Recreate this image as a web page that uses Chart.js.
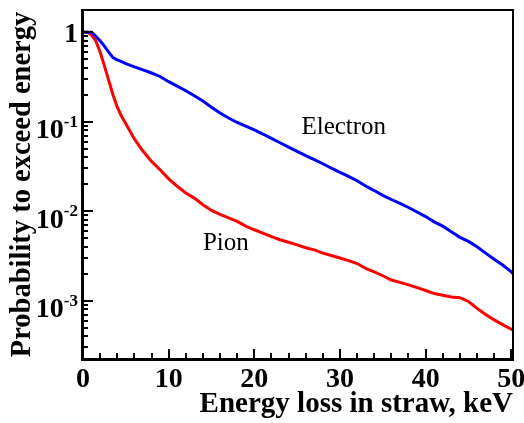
<!DOCTYPE html>
<html>
<head>
<meta charset="utf-8">
<script src="https://cdn.jsdelivr.net/npm/chart.js@4/dist/chart.umd.min.js"></script>
<style>
  html, body { margin: 0; padding: 0; background: #fff; }
</style>
</head>
<body>
<canvas id="lossgraph" width="524" height="423"></canvas>
<script>
// energy loss in straw, keV
const energy = [0, 0.5, 1, 1.5, 2, 2.5, 3, 3.5, 4, 4.5, 5, 6, 7, 8, 9, 10,
  11, 12, 13, 14, 15, 16, 17, 18, 19, 20, 21, 22, 23, 24, 25, 26, 27, 28, 29, 30,
  31, 32, 33, 34, 35, 36, 37, 38, 39, 40, 41, 42, 43, 44, 45, 46, 47, 48, 49, 50, 50.2];

// probability to exceed energy
const electron = [1, 1, 1, 0.9, 0.8, 0.7, 0.6, 0.52, 0.49, 0.47, 0.445, 0.41, 0.38, 0.35, 0.32, 0.28,
  0.25, 0.222, 0.195, 0.17, 0.145, 0.125, 0.11, 0.098, 0.089, 0.081, 0.0728, 0.065, 0.0582, 0.052, 0.0465,
  0.0417, 0.0376, 0.0339, 0.0302, 0.0272, 0.0245, 0.0219, 0.0191, 0.017, 0.015, 0.0135, 0.0122, 0.011,
  0.0098, 0.0087, 0.0076, 0.0068, 0.0059, 0.0051, 0.0046, 0.004, 0.0034, 0.0029, 0.0025, 0.0021, 0.002];

const pion = [1, 1, 0.93, 0.8, 0.6, 0.42, 0.29, 0.2, 0.145, 0.115, 0.095, 0.064, 0.047, 0.036, 0.029, 0.023,
  0.019, 0.016, 0.014, 0.0118, 0.0102, 0.0092, 0.0084, 0.0077, 0.0068, 0.0062, 0.0057, 0.0052, 0.0048, 0.0045,
  0.0042, 0.0039, 0.0037, 0.0034, 0.0032, 0.003, 0.0028, 0.0026, 0.0023, 0.0021, 0.0019, 0.0017, 0.0016,
  0.0015, 0.0014, 0.0013, 0.0012, 0.00115, 0.0011, 0.00108, 0.00098, 0.00082, 0.0007, 0.00061, 0.00054,
  0.00048, 0.00047];

const xRange = [0, 50.2];
const yRange = [2.23e-4, 1.77];
const curveNames = ['Electron', 'Pion'];
const curveNamePos = [[25.5, 0.072], [14.0, 0.00364]];

const serif = '"Liberation Serif", "Times New Roman", serif';

function toPoints(values) {
  return energy.map((e, i) => ({ x: e, y: values[i] }));
}

// ROOT style frame: inside ticks, log labels with superscripts, curve names
const framePlugin = {
  id: 'frame',
  afterDatasetsDraw(chart) {
    const { ctx, chartArea: a } = chart;
    const x = chart.scales.x, y = chart.scales.y;
    const L = Math.round(a.left), R = Math.round(a.right);
    const T = Math.round(a.top), B = Math.round(a.bottom);
    ctx.save();
    ctx.fillStyle = '#000';

    x.ticks.forEach(t => {
      const v = t.value;
      if (Math.abs(v / 2 - Math.round(v / 2)) > 1e-6) return;
      const px = Math.round(x.getPixelForValue(v));
      const len = Math.abs(v % 10) < 1e-6 ? 10 : 6;
      ctx.fillRect(px - 1, B - len, 2, len);
    });

    const d0 = Math.floor(Math.log10(y.min)), d1 = Math.ceil(Math.log10(y.max));
    for (let d = d0; d <= d1; d++) {
      for (let m = 1; m <= 9; m++) {
        const v = m * Math.pow(10, d);
        if (v < y.min || v > y.max) continue;
        const py = Math.round(y.getPixelForValue(v));
        const len = m === 1 ? 10 : 5;
        ctx.fillRect(L, py - 1, len, 2);
      }
    }

    // frame
    ctx.fillRect(L, T - 1, R - L + 1, 2);
    ctx.fillRect(R - 1, T - 1, 2, B - T + 1);
    ctx.fillRect(L - 2, T - 1, 3, B - T + 3);
    ctx.fillRect(L - 2, B - 1, R - L + 3, 3);

    // y labels 1, 10^-1 ...
    ctx.textAlign = 'right';
    ctx.textBaseline = 'alphabetic';
    for (let d = d0; d <= 0; d++) {
      const v = Math.pow(10, d);
      if (v < y.min || v > y.max) continue;
      const py = y.getPixelForValue(v);
      const right = L - 5;
      if (d === 0) {
        ctx.font = 'bold 28px ' + serif;
        ctx.fillText('1', right, py + 10);
      } else {
        ctx.font = 'bold 17px ' + serif;
        const sup = '-' + (-d);
        const w = ctx.measureText(sup).width;
        ctx.fillText(sup, right, py + 5);
        ctx.font = 'bold 28px ' + serif;
        ctx.fillText('10', right - w, py + 16.5);
      }
    }

    // curve names
    ctx.textAlign = 'left';
    ctx.font = '25px ' + serif;
    curveNames.forEach((name, i) => {
      const [ex, ey] = curveNamePos[i];
      ctx.fillText(name, x.getPixelForValue(ex), y.getPixelForValue(ey));
    });
    ctx.restore();
  }
};

new Chart(document.getElementById('lossgraph'), {
  type: 'line',
  data: {
    datasets: [{
      label: curveNames[0],
      data: toPoints(electron),
      borderColor: '#0000ff',
      borderWidth: 3,
      pointRadius: 0,
      tension: 0
    }, {
      label: curveNames[1],
      data: toPoints(pion),
      borderColor: '#ff0000',
      borderWidth: 3,
      pointRadius: 0,
      tension: 0
    }]
  },
  options: {
    responsive: false,
    animation: false,
    devicePixelRatio: 1,
    layout: { padding: { top: 10, right: 11, left: 0, bottom: 0 } },
    plugins: { legend: { display: false }, tooltip: { enabled: false } },
    scales: {
      x: {
        type: 'linear',
        min: xRange[0],
        max: xRange[1],
        afterFit: s => { s.height = 64; s.paddingLeft = 0; s.paddingRight = 0; },
        grid: { display: false, drawTicks: false },
        border: { display: false },
        ticks: {
          stepSize: 2,
          includeBounds: false,
          autoSkip: false,
          maxRotation: 0,
          padding: 4,
          color: '#000',
          font: { family: serif, size: 28, weight: 'bold' },
          callback: v => (v % 10 === 0 ? String(v) : '')
        },
        title: {
          display: true,
          text: 'Energy loss in straw, keV',
          align: 'end',
          color: '#000',
          padding: { top: 0, bottom: 1 },
          font: { family: serif, size: 29, weight: 'bold' }
        }
      },
      y: {
        type: 'logarithmic',
        min: yRange[0],
        max: yRange[1],
        afterFit: s => { s.width = 83; s.paddingTop = 0; s.paddingBottom = 0; },
        grid: { display: false, drawTicks: false },
        border: { display: false },
        ticks: { display: false },
        title: {
          display: true,
          text: 'Probability to exceed energy',
          color: '#000',
          padding: { top: 6, bottom: 0 },
          font: { family: serif, size: 28.5, weight: 'bold' }
        }
      }
    }
  },
  plugins: [framePlugin]
});
</script>
</body>
</html>
